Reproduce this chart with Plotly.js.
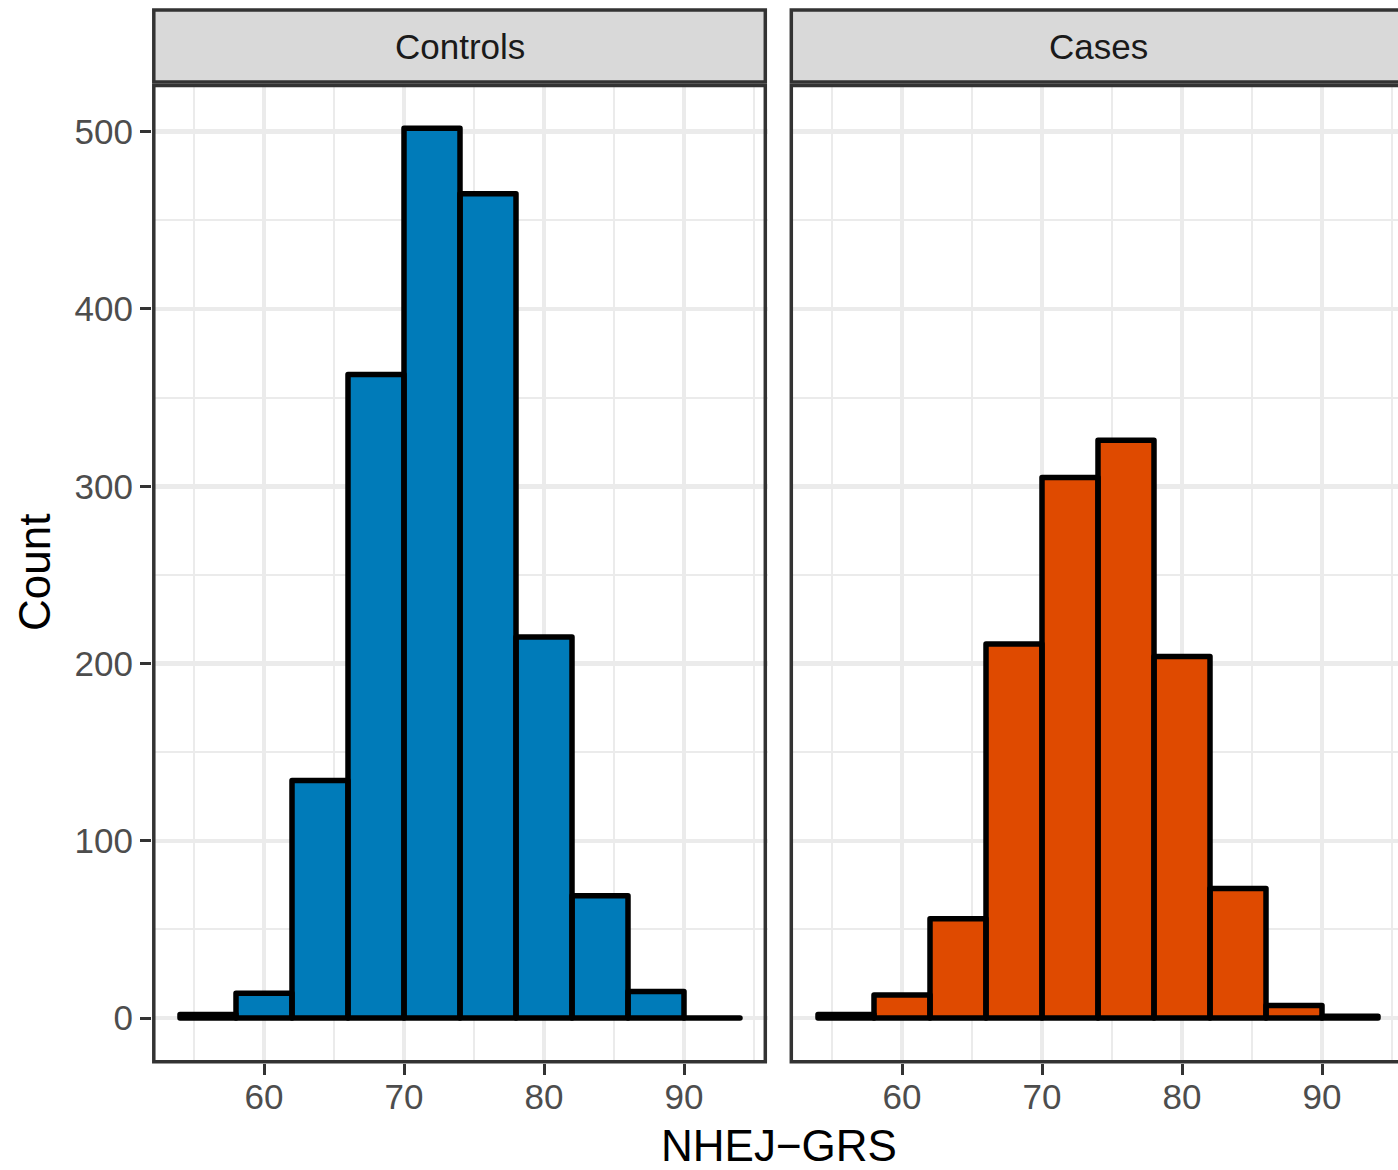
<!DOCTYPE html>
<html>
<head>
<meta charset="utf-8">
<script src="https://cdn.plot.ly/plotly-3.0.1.min.js"></script>
<style>
  html, body { margin: 0; padding: 0; background: #ffffff; }
  #chart { width: 1398px; height: 1170px; }
  path.js-line { stroke-linejoin: round; stroke-linecap: round; }
</style>
</head>
<body>
<div id="chart"></div>
<script>
// ---- data ----
const binCenters = [56, 60, 64, 68, 72, 76, 80, 84, 88, 92];
const binWidth = 4;
const controlsCounts = [2, 14, 134, 363, 502, 465, 215, 69, 15, 0];
const casesCounts = [2, 13, 56, 211, 305, 326, 204, 73, 7, 1];
const panelNames = ["Controls", "Cases"];
const xTickVals = [60, 70, 80, 90];
const yTickVals = [0, 100, 200, 300, 400, 500];
const xTitle = "NHEJ\u2212GRS";
const yTitle = "Count";

// ---- helpers ----
const W = 1398, H = 1170;
const px = p => p / W;
const py = p => 1 - p / H;
const FONT = "Liberation Sans, Arial, sans-serif";

function outline(counts, xa, ya) {
  const xs = [], ys = [];
  binCenters.forEach((c, i) => {
    const a = c - binWidth / 2, b = c + binWidth / 2, v = counts[i];
    xs.push(a, a, b, b, a, null);
    ys.push(0, v, v, 0, 0, null);
  });
  return {
    type: "scatter", mode: "lines", x: xs, y: ys, xaxis: xa, yaxis: ya,
    line: { color: "#000000", width: 5.5 }, hoverinfo: "skip", showlegend: false,
    connectgaps: false
  };
}

function bars(counts, color, xa, ya) {
  return {
    type: "bar", x: binCenters, y: counts, width: binCenters.map(() => binWidth),
    xaxis: xa, yaxis: ya, marker: { color: color, line: { width: 0 } },
    hoverinfo: "skip", showlegend: false
  };
}

const traces = [
  bars(controlsCounts, "#007BB9", "x", "y"),
  bars(casesCounts, "#DF4A00", "x2", "y2"),
  outline(controlsCounts, "x", "y"),
  outline(casesCounts, "x2", "y2")
];

const gridMajor = "#EBEBEB";
const yRange = [-25.1, 527.1];
const yDomain = [py(1062.5), py(83.7)];

function xAxis(domain, range, anchor) {
  return {
    domain: domain, range: range, anchor: anchor,
    tickvals: xTickVals, ticks: "outside", ticklen: 11, tickwidth: 3, tickcolor: "#333333",
    ticklabelstandoff: -8,
    showgrid: true, gridcolor: gridMajor, gridwidth: 4.5,
    minor: { dtick: 5, tick0: 0, showgrid: true, gridcolor: gridMajor, gridwidth: 2, ticks: "" },
    zeroline: false, showline: false,
    tickfont: { family: FONT, size: 35, color: "#4D4D4D" },
    fixedrange: true
  };
}

const layout = {
  width: W, height: H,
  margin: { l: 0, r: 0, t: 0, b: 0 },
  paper_bgcolor: "#ffffff", plot_bgcolor: "#ffffff",
  showlegend: false, bargap: 0, barmode: "overlay", hovermode: false,
  font: { family: FONT },
  xaxis: xAxis([px(152), px(768)], [52, 96], "y"),
  xaxis2: xAxis([px(790), 1], [52, 52 + (W - 790) / 14], "y2"),
  yaxis: {
    domain: yDomain, range: yRange, anchor: "x",
    tickvals: yTickVals, ticks: "outside", ticklen: 11, tickwidth: 3, tickcolor: "#333333",
    showgrid: true, gridcolor: gridMajor, gridwidth: 4.5,
    minor: { dtick: 50, tick0: 0, showgrid: true, gridcolor: gridMajor, gridwidth: 2, ticks: "" },
    zeroline: false, showline: false,
    tickfont: { family: FONT, size: 35, color: "#4D4D4D" },
    fixedrange: true
  },
  yaxis2: {
    domain: yDomain, range: yRange, anchor: "x2", matches: "y",
    tickvals: yTickVals, ticks: "", showticklabels: false,
    showgrid: true, gridcolor: gridMajor, gridwidth: 4.5,
    minor: { dtick: 50, tick0: 0, showgrid: true, gridcolor: gridMajor, gridwidth: 2, ticks: "" },
    zeroline: false, showline: false, fixedrange: true
  },
  shapes: [
    // panel borders
    { type: "rect", xref: "paper", yref: "paper", layer: "above",
      x0: px(153.8), x1: px(765.3), y0: py(1061.8), y1: py(85.5),
      line: { color: "#333333", width: 3.5 }, fillcolor: "rgba(0,0,0,0)" },
    { type: "rect", xref: "paper", yref: "paper", layer: "above",
      x0: px(791.3), x1: px(1420), y0: py(1061.8), y1: py(85.5),
      line: { color: "#333333", width: 3.5 }, fillcolor: "rgba(0,0,0,0)" },
    // strips
    { type: "rect", xref: "paper", yref: "paper", layer: "above",
      x0: px(153.8), x1: px(765.3), y0: py(82), y1: py(10),
      line: { color: "#333333", width: 3.5 }, fillcolor: "#D9D9D9" },
    { type: "rect", xref: "paper", yref: "paper", layer: "above",
      x0: px(791.3), x1: px(1420), y0: py(82), y1: py(10),
      line: { color: "#333333", width: 3.5 }, fillcolor: "#D9D9D9" }
  ],
  annotations: [
    { text: panelNames[0], xref: "paper", yref: "paper", x: px(460), y: py(47),
      xanchor: "center", yanchor: "middle", showarrow: false,
      font: { family: FONT, size: 35, color: "#1A1A1A" } },
    { text: panelNames[1], xref: "paper", yref: "paper", x: px(1098), y: py(47),
      xanchor: "center", yanchor: "middle", showarrow: false,
      font: { family: FONT, size: 35, color: "#1A1A1A" } },
    { text: yTitle, xref: "paper", yref: "paper", x: px(34), y: py(573),
      xanchor: "center", yanchor: "middle", textangle: -90, showarrow: false,
      font: { family: FONT, size: 44, color: "#000000" } },
    { text: xTitle, xref: "paper", yref: "paper", x: px(779), y: py(1145),
      xanchor: "center", yanchor: "middle", showarrow: false, borderpad: 0,
      font: { family: FONT, size: 44, color: "#000000" } }
  ]
};

Plotly.newPlot("chart", traces, layout, { staticPlot: true, displayModeBar: false });
</script>
</body>
</html>
